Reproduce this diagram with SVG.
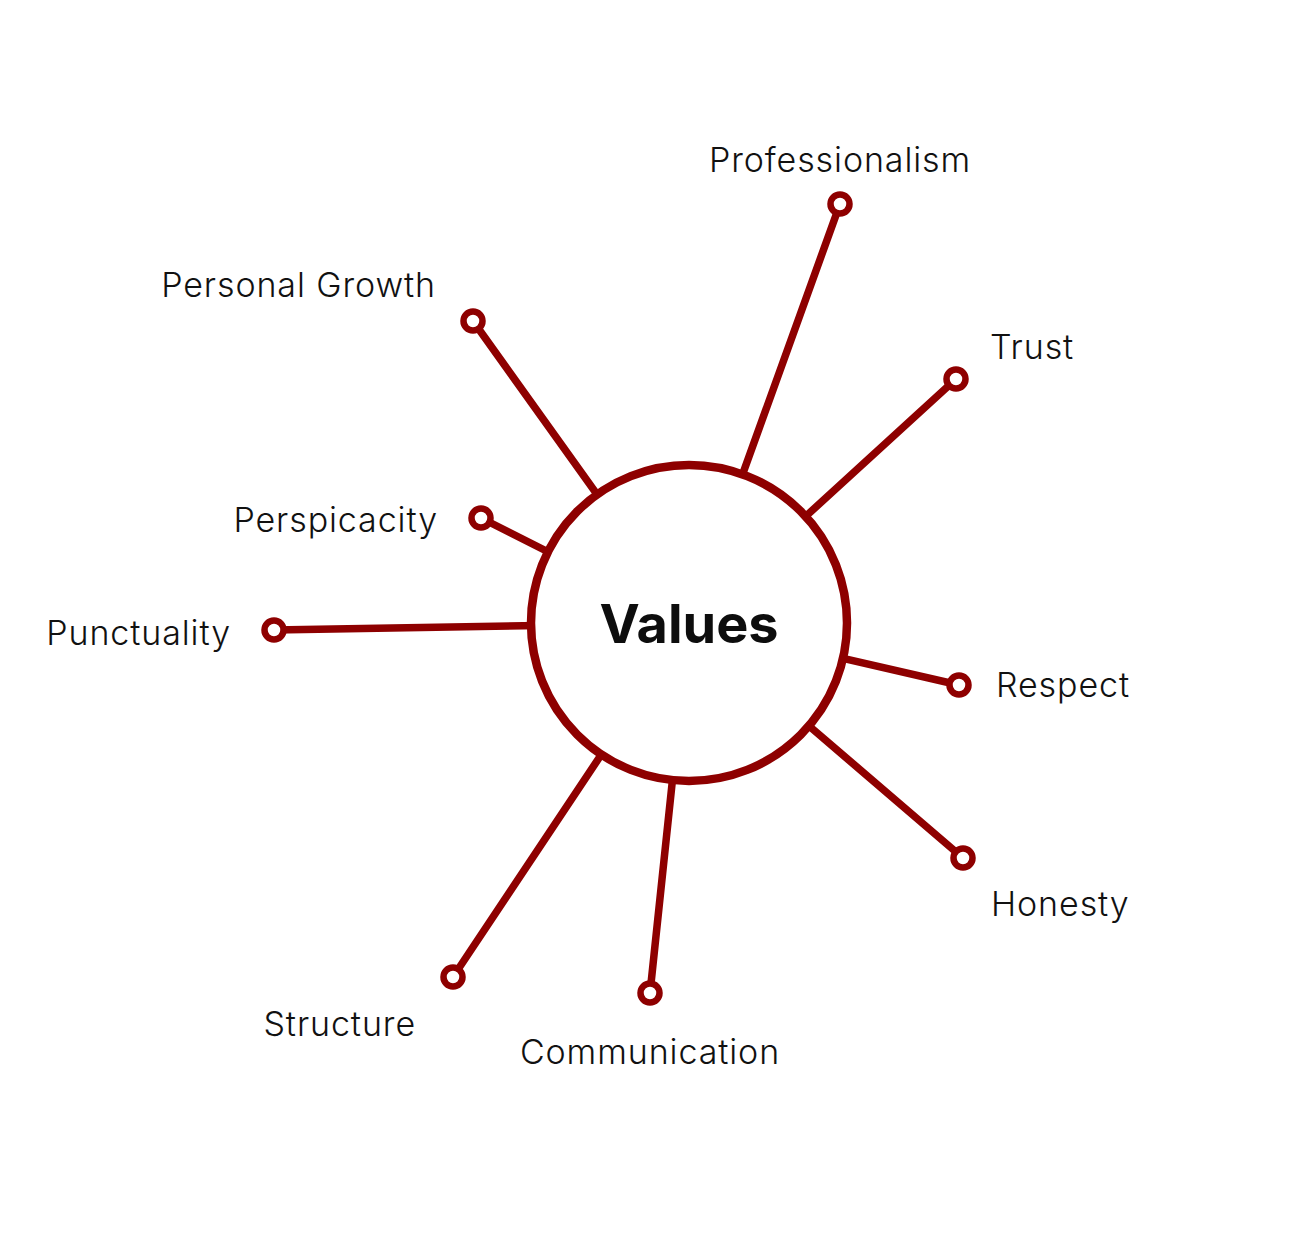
<svg xmlns="http://www.w3.org/2000/svg" width="1314" height="1248" viewBox="0 0 1314 1248">
<style>
.ln{stroke:#8e0000;stroke-width:7.5;stroke-linecap:round;fill:none}
.dot{fill:#fff;stroke:#8e0000;stroke-width:6.5}
.lb{font-family:Inter,"Noto Sans","Liberation Sans",sans-serif;font-weight:300;font-size:34px;letter-spacing:0.9px;fill:#111}
.hub{fill:#fff;stroke:#8e0000;stroke-width:8.5}
.ht{font-family:Inter,"Liberation Sans",sans-serif;font-weight:700;font-size:54px;fill:#0d0d0d}
</style>
<rect width="1314" height="1248" fill="#fff"/>
<g id="connectors">
<line class="ln" x1="840" y1="204" x2="689" y2="623"/>
<line class="ln" x1="956" y1="379" x2="689" y2="623"/>
<line class="ln" x1="473" y1="321" x2="689" y2="623"/>
<line class="ln" x1="481" y1="518" x2="689" y2="623"/>
<line class="ln" x1="274" y1="630" x2="689" y2="623"/>
<line class="ln" x1="959" y1="685" x2="689" y2="623"/>
<line class="ln" x1="963" y1="858" x2="689" y2="623"/>
<line class="ln" x1="650" y1="993" x2="689" y2="623"/>
<line class="ln" x1="453" y1="977" x2="689" y2="623"/>
</g>
<g id="values">
<circle class="hub" cx="689" cy="623" r="158"/>
<text class="ht" x="689" y="643" text-anchor="middle">Values</text>
</g>
<g id="professionalism"><circle class="dot" cx="840" cy="204" r="9.5"/><text class="lb" x="840" y="172" text-anchor="middle">Professionalism</text></g>
<g id="trust"><circle class="dot" cx="956" cy="379" r="9.5"/><text class="lb" x="990" y="359">Trust</text></g>
<g id="personal-growth"><circle class="dot" cx="473" cy="321" r="9.5"/><text class="lb" x="436" y="297" text-anchor="end">Personal Growth</text></g>
<g id="perspicacity"><circle class="dot" cx="481" cy="518" r="9.5"/><text class="lb" x="438" y="532" text-anchor="end">Perspicacity</text></g>
<g id="punctuality"><circle class="dot" cx="274" cy="630" r="9.5"/><text class="lb" x="231" y="645" text-anchor="end">Punctuality</text></g>
<g id="respect"><circle class="dot" cx="959" cy="685" r="9.5"/><text class="lb" x="996" y="697">Respect</text></g>
<g id="honesty"><circle class="dot" cx="963" cy="858" r="9.5"/><text class="lb" x="991" y="916">Honesty</text></g>
<g id="communication"><circle class="dot" cx="650" cy="993" r="9.5"/><text class="lb" x="650" y="1064" text-anchor="middle">Communication</text></g>
<g id="structure"><circle class="dot" cx="453" cy="977" r="9.5"/><text class="lb" x="416" y="1036" text-anchor="end">Structure</text></g>
</svg>
